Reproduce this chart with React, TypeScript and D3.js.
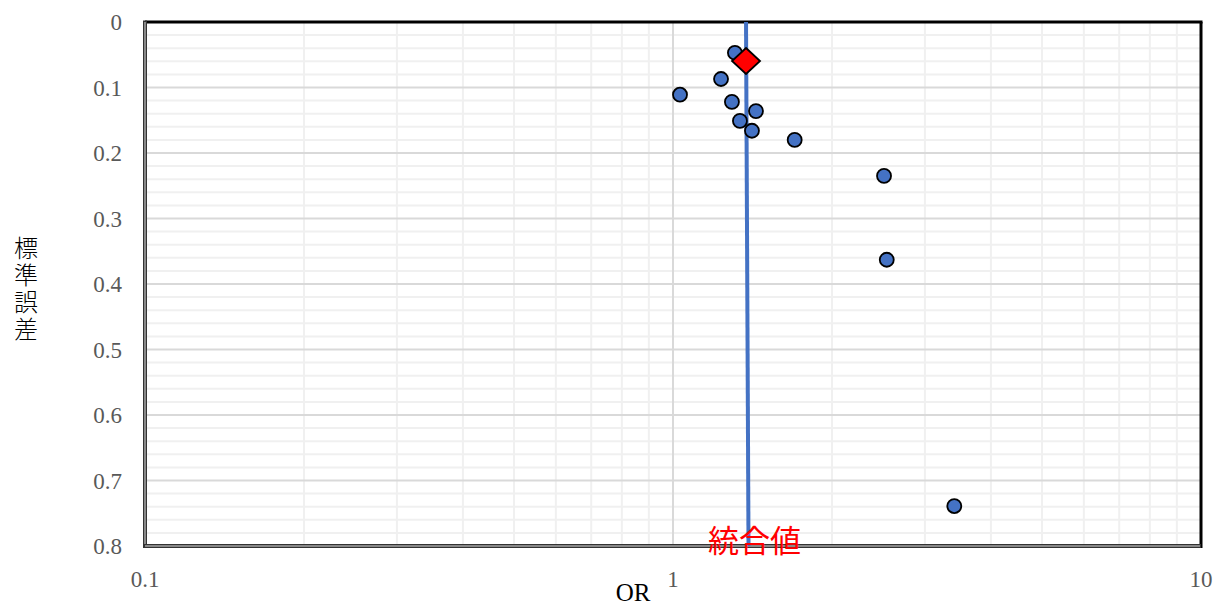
import React, { useEffect, useRef } from 'react';
import * as d3 from 'd3';

// study estimates: odds ratio and standard error
const orValues = [1.31, 1.233, 1.031, 1.293, 1.436, 1.339, 1.411, 1.70, 2.51, 2.54, 3.41];
const seValues = [0.047, 0.087, 0.111, 0.122, 0.136, 0.151, 0.166, 0.180, 0.235, 0.363, 0.739];

// pooled estimate
const pooledOR = 1.375;
const pooledSE = 0.0595;
const pooledLine = [
  { or: 1.375, se: 0 },
  { or: 1.39, se: 0.8 },
];

const xTicks = [0.1, 1, 10];
const yTicks = [0, 0.1, 0.2, 0.3, 0.4, 0.5, 0.6, 0.7, 0.8];
const yTitle = '標準誤差';

const App: React.FC = () => {
  const svgRef = useRef<SVGSVGElement>(null);

  useEffect(() => {
    if (!svgRef.current) return;
    const width = 1229;
    const height = 608;
    const margin = { top: 22, right: 28, bottom: 62, left: 145 };

    const svg = d3.select(svgRef.current)
      .attr('width', width)
      .attr('height', height)
      .attr('viewBox', [0, 0, width, height]);
    svg.selectAll('*').remove();

    const x = d3.scaleLog().domain([0.1, 10]).range([margin.left, width - margin.right]);
    const y = d3.scaleLinear().domain([0, 0.8]).range([margin.top, height - margin.bottom]);
    const [x0, x1] = x.range();
    const [y0, y1] = y.range();

    const grid = svg.append('g');

    // minor horizontal grid
    const yMinor = d3.range(0, 0.8001, 0.02).filter(v => Math.abs(Math.round(v * 10) - v * 10) > 1e-6);
    grid.selectAll('.hmin').data(yMinor).enter().append('line')
      .attr('x1', x0).attr('x2', x1)
      .attr('y1', d => y(d)).attr('y2', d => y(d))
      .attr('stroke', '#f0f0f0').attr('stroke-width', 2);

    // minor vertical grid
    const xMinor = [2, 3, 4, 5, 6, 7, 8, 9].flatMap(m => [m * 0.1, m]);
    grid.selectAll('.vmin').data(xMinor).enter().append('line')
      .attr('x1', d => x(d)).attr('x2', d => x(d))
      .attr('y1', y0).attr('y2', y1)
      .attr('stroke', '#f0f0f0').attr('stroke-width', 2);

    // major grid
    grid.selectAll('.hmaj').data(yTicks.slice(1, -1)).enter().append('line')
      .attr('x1', x0).attr('x2', x1)
      .attr('y1', d => y(d)).attr('y2', d => y(d))
      .attr('stroke', '#d9d9d9').attr('stroke-width', 2);
    grid.append('line')
      .attr('x1', x(1)).attr('x2', x(1))
      .attr('y1', y0).attr('y2', y1)
      .attr('stroke', '#d9d9d9').attr('stroke-width', 2);

    // borders: top/right black, left/bottom gray double
    svg.append('line').attr('x1', x0).attr('x2', x1 + 1.5).attr('y1', y0).attr('y2', y0)
      .attr('stroke', '#000').attr('stroke-width', 3);
    svg.append('line').attr('x1', x1).attr('x2', x1).attr('y1', y0).attr('y2', y1 + 2)
      .attr('stroke', '#000').attr('stroke-width', 3);
    svg.append('line').attr('x1', x0).attr('x2', x0).attr('y1', y0 - 1.5).attr('y2', y1 + 2)
      .attr('stroke', '#333').attr('stroke-width', 4);
    svg.append('line').attr('x1', x0).attr('x2', x0).attr('y1', y0).attr('y2', y1 + 1)
      .attr('stroke', '#a6a6a6').attr('stroke-width', 1.5);
    svg.append('line').attr('x1', x0 - 2).attr('x2', x1).attr('y1', y1).attr('y2', y1)
      .attr('stroke', '#333').attr('stroke-width', 4);
    svg.append('line').attr('x1', x0).attr('x2', x1 - 1).attr('y1', y1).attr('y2', y1)
      .attr('stroke', '#a6a6a6').attr('stroke-width', 1.5);

    // pooled line
    svg.append('path')
      .datum(pooledLine)
      .attr('fill', 'none')
      .attr('stroke', '#4472c4')
      .attr('stroke-width', 4)
      .attr('d', d3.line<{ or: number; se: number }>().x(d => x(d.or)).y(d => y(d.se)));

    // study points
    svg.selectAll('.pt').data(orValues).enter().append('circle')
      .attr('cx', d => x(d))
      .attr('cy', (d, i) => y(seValues[i]))
      .attr('r', 7)
      .attr('fill', '#4472c4')
      .attr('stroke', '#000')
      .attr('stroke-width', 1.8);

    // pooled diamond
    const px = x(pooledOR);
    const py = y(pooledSE);
    svg.append('path')
      .attr('d', `M${px},${py - 13}L${px + 14},${py}L${px},${py + 13}L${px - 14},${py}Z`)
      .attr('fill', '#ff0000')
      .attr('stroke', '#000')
      .attr('stroke-width', 1.8);

    // label
    svg.append('text')
      .attr('x', x(1.39) + 6)
      .attr('y', y1 + 6)
      .attr('text-anchor', 'middle')
      .attr('font-family', '"Noto Sans CJK JP", sans-serif')
      .attr('font-size', 31)
      .attr('fill', '#ff0000')
      .text('統合値');

    // tick labels
    const serif = '"Liberation Serif", "Times New Roman", serif';
    svg.selectAll('.yt').data(yTicks).enter().append('text')
      .attr('x', 122)
      .attr('y', d => y(d))
      .attr('dy', '0.35em')
      .attr('text-anchor', 'end')
      .attr('font-family', serif)
      .attr('font-size', 23)
      .attr('fill', '#595959')
      .text(d => String(d));

    svg.selectAll('.xt').data(xTicks).enter().append('text')
      .attr('x', d => x(d))
      .attr('y', 587)
      .attr('text-anchor', 'middle')
      .attr('font-family', serif)
      .attr('font-size', 23)
      .attr('fill', '#595959')
      .text(d => String(d));

    // axis titles
    svg.append('text')
      .attr('x', 633)
      .attr('y', 601)
      .attr('text-anchor', 'middle')
      .attr('font-family', serif)
      .attr('font-size', 25)
      .attr('fill', '#000')
      .text('OR');

    svg.append('text')
      .attr('x', 26)
      .attr('y', 290)
      .attr('text-anchor', 'middle')
      .style('writing-mode', 'vertical-rl')
      .attr('letter-spacing', 3)
      .attr('font-family', '"Noto Sans CJK JP", sans-serif')
      .attr('font-weight', 300)
      .attr('font-size', 24)
      .attr('fill', '#000')
      .text(yTitle);
  }, []);

  return (
    <div style={{ position: 'absolute', left: 0, top: 0 }}>
      <svg ref={svgRef}></svg>
    </div>
  );
};

export default App;
